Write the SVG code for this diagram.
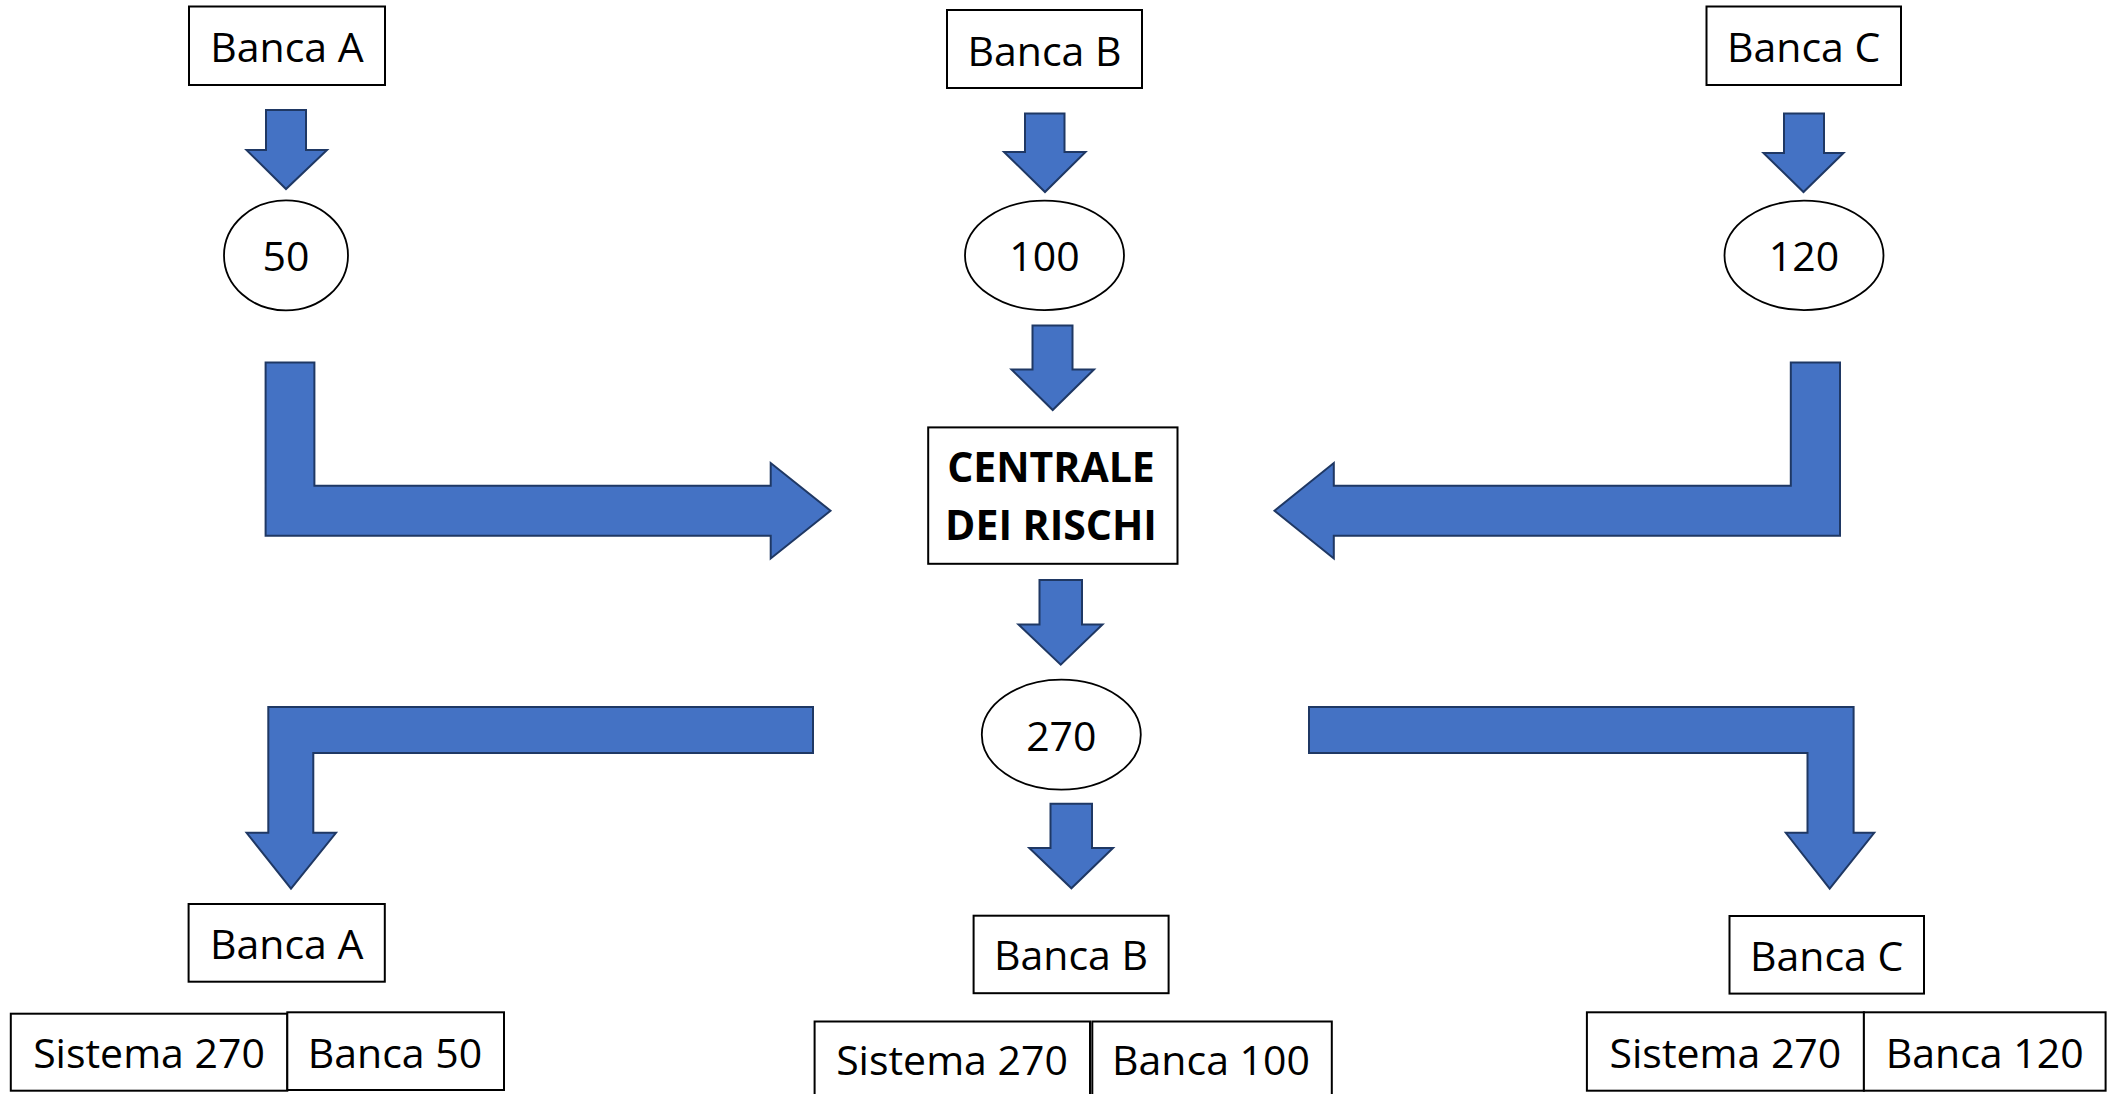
<svg xmlns="http://www.w3.org/2000/svg" width="2109" height="1094" viewBox="0 0 2109 1094">
<style>
  .box { fill: #ffffff; stroke: #000000; stroke-width: 2; }
  .oval { fill: #ffffff; stroke: #000000; stroke-width: 1.8; }
  .arrow { fill: #4472C4; stroke: #1F3864; stroke-width: 2; stroke-linejoin: miter; }
  .t { font-family: "Open Sans", "Noto Sans", "Liberation Sans", sans-serif; font-size: 41px; fill: #000000; text-anchor: middle; }
  .b { font-weight: bold; }
</style>
<rect width="2109" height="1094" fill="#ffffff"/>

<g id="connectors">
  <polygon class="arrow" points="266,110 306,110 306,150 327,150 286,189 246.5,150 266,150"/>
  <polygon class="arrow" points="1025,113.5 1064.5,113.5 1064.5,152 1085.5,152 1045,192 1004,152 1025,152"/>
  <polygon class="arrow" points="1784,113.5 1824,113.5 1824,153 1843.5,153 1803.5,192 1763.5,153 1784,153"/>
  <polygon class="arrow" points="1032.5,325.5 1072.5,325.5 1072.5,369.5 1094,369.5 1052.7,410 1011.5,369.5 1032.5,369.5"/>
  <polygon class="arrow" points="1039.5,580 1082,580 1082,624.5 1102.5,624.5 1060.7,664.7 1018.5,624.5 1039.5,624.5"/>
  <polygon class="arrow" points="1050.5,803.7 1092,803.7 1092,848 1113,848 1071.4,888.3 1029.3,848 1050.5,848"/>
  <polygon class="arrow" points="265.6,362.5 314.4,362.5 314.4,485.7 770.7,485.7 770.7,463 830.5,510.7 770.7,558.5 770.7,535.7 265.6,535.7"/>
  <polygon class="arrow" points="1790.8,362.5 1840,362.5 1840,535.7 1333.8,535.7 1333.8,558.5 1274.5,510.7 1333.8,463 1333.8,485.7 1790.8,485.7"/>
  <polygon class="arrow" points="813,707 813,753 313.3,753 313.3,832.8 336,832.8 291,888.7 246.6,832.8 268.3,832.8 268.3,707"/>
  <polygon class="arrow" points="1309,707 1853.6,707 1853.6,832.8 1874.2,832.8 1829.7,888.7 1785.8,832.8 1807.5,832.8 1807.5,753 1309,753"/>
</g>

<g id="banca-a-top">
  <rect class="box" x="189" y="6.5" width="196" height="78.5"/>
  <text class="t" x="287" y="61.5">Banca A</text>
</g>
<g id="banca-b-top">
  <rect class="box" x="947" y="10" width="195" height="78"/>
  <text class="t" x="1044.5" y="65.5">Banca B</text>
</g>
<g id="banca-c-top">
  <rect class="box" x="1706.5" y="6.5" width="194.5" height="78.5"/>
  <text class="t" x="1803.7" y="61.5">Banca C</text>
</g>

<g id="val-50">
  <ellipse class="oval" cx="286" cy="255.4" rx="62" ry="55"/>
  <text class="t" x="286" y="270.5">50</text>
</g>
<g id="val-100">
  <ellipse class="oval" cx="1044.5" cy="255.4" rx="79.5" ry="54.7"/>
  <text class="t" x="1044.5" y="270.5">100</text>
</g>
<g id="val-120">
  <ellipse class="oval" cx="1804" cy="255.4" rx="79.5" ry="54.7"/>
  <text class="t" x="1804" y="270.5">120</text>
</g>

<g id="centrale">
  <rect class="box" x="928.2" y="427.4" width="249.3" height="136.4"/>
  <text class="t b" x="1051" y="482">CENTRALE</text>
  <text class="t b" x="1051" y="540.3">DEI RISCHI</text>
</g>

<g id="val-270">
  <ellipse class="oval" cx="1061.3" cy="734.7" rx="79.5" ry="55"/>
  <text class="t" x="1061.3" y="751">270</text>
</g>

<g id="banca-a-bottom">
  <rect class="box" x="188.6" y="904" width="196.2" height="77.7"/>
  <text class="t" x="286.7" y="959">Banca A</text>
</g>
<g id="banca-b-bottom">
  <rect class="box" x="973.6" y="915.7" width="195" height="77.5"/>
  <text class="t" x="1071" y="970">Banca B</text>
</g>
<g id="banca-c-bottom">
  <rect class="box" x="1729.5" y="916" width="194.5" height="77.6"/>
  <text class="t" x="1826.7" y="970.5">Banca C</text>
</g>

<g id="a-sistema">
  <rect class="box" x="10.8" y="1013.7" width="276.5" height="77"/>
  <text class="t" x="149" y="1068">Sistema 270</text>
</g>
<g id="a-banca">
  <rect class="box" x="287.3" y="1012.3" width="216.7" height="77.7"/>
  <text class="t" x="395" y="1068">Banca 50</text>
</g>

<g id="b-sistema">
  <rect class="box" x="814.6" y="1021.5" width="275.4" height="90"/>
  <text class="t" x="952" y="1075">Sistema 270</text>
</g>
<g id="b-banca">
  <rect class="box" x="1092.3" y="1021.5" width="239.5" height="90"/>
  <text class="t" x="1211" y="1075">Banca 100</text>
</g>

<g id="c-sistema">
  <rect class="box" x="1586.9" y="1012.3" width="277" height="78.4"/>
  <text class="t" x="1725.4" y="1067.5">Sistema 270</text>
</g>
<g id="c-banca">
  <rect class="box" x="1863.9" y="1012.3" width="241.7" height="78.4"/>
  <text class="t" x="1984.7" y="1067.5">Banca 120</text>
</g>
</svg>
